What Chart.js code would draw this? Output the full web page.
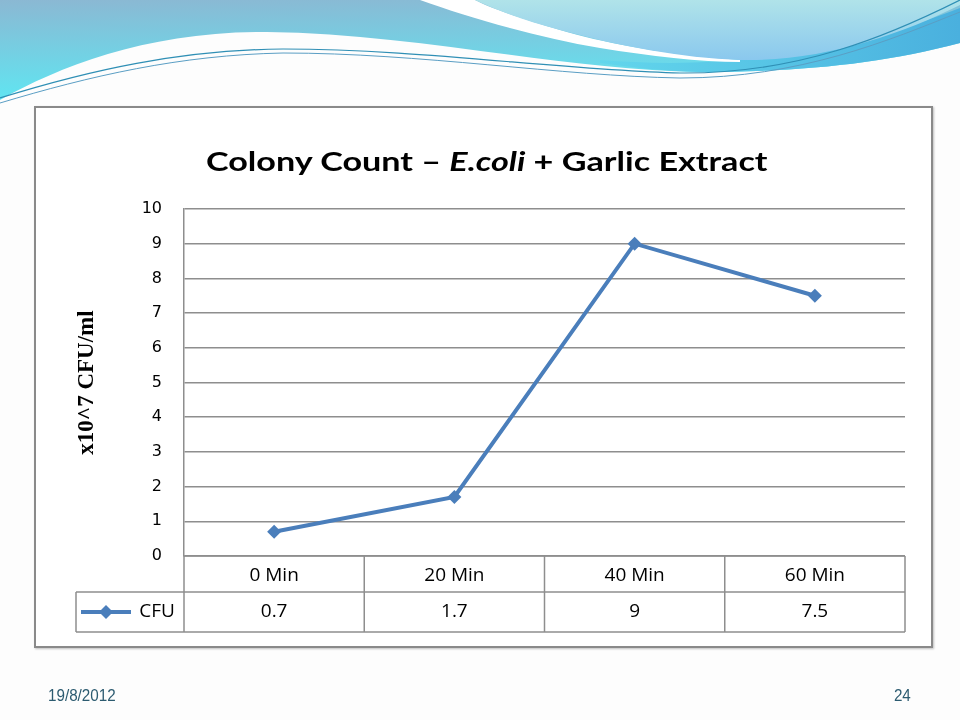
<!DOCTYPE html>
<html>
<head>
<meta charset="utf-8">
<script src="https://cdn.jsdelivr.net/npm/chart.js@4.4.0/dist/chart.umd.min.js"></script>
<style>
  html, body { margin: 0; padding: 0; background: #fff; }
  #slide { position: relative; width: 960px; height: 720px; overflow: hidden; background: #fdfdfd; }
  #waves { position: absolute; left: 0; top: 0; }
  #box { position: absolute; left: 34px; top: 106px; width: 895px; height: 538px;
         border: 2px solid #8a8a8a; background: #fff; box-shadow: 1px 1px 2px rgba(0,0,0,0.25); }
  #chart { position: absolute; left: 0; top: 0; }
  #title { position: absolute; left: 206px; top: 145px; white-space: nowrap;
           font: bold 26px Lato, "Open Sans", sans-serif; color: #000; transform-origin: 0 0; }
  .foot { position: absolute; top: 687px; font: 16px "Liberation Sans Narrow", "Liberation Sans", sans-serif;
          color: #2c5b70; transform: scaleX(0.95); }
</style>
</head>
<body>
<div id="slide">
  <svg id="waves" width="960" height="120">
    <defs>
      <linearGradient id="gMain" x1="0" y1="0" x2="0.15" y2="1">
        <stop offset="0" stop-color="#8bb8d3"/>
        <stop offset="1" stop-color="#5fe6f2"/>
      </linearGradient>
      <linearGradient id="gPale" x1="0" y1="0" x2="0" y2="1">
        <stop offset="0" stop-color="#b0e3e9"/>
        <stop offset="1" stop-color="#8ac8ee"/>
      </linearGradient>
      <linearGradient id="gBand" x1="0" y1="0" x2="1" y2="0">
        <stop offset="0" stop-color="#62d6ec"/>
        <stop offset="1" stop-color="#4ab0de"/>
      </linearGradient>
    </defs>
    <path d="M0,0 H960 V43 C880,64 800,72 700,72 C560,70 420,34 267,32 C150,31 60,66 0,100 Z" fill="url(#gMain)"/>
    <path d="M600,60 C700,68 820,62 960,8 V43 C880,64 800,72 700,72 C660,71 630,67 600,63 Z" fill="url(#gBand)"/>
    <path d="M420,0 C470,18 540,38 600,48 C650,56 700,62 740,62 L740,60 C660,54 600,42 560,30 C520,18 490,8 475,0 Z" fill="#fff"/>
    <path d="M475,0 C500,12 530,22 560,30 C620,46 680,58 740,60 C820,62 900,35 960,5 V0 Z" fill="url(#gPale)"/>
    <path d="M0,98 C90,70 180,50 283,49 C420,49 560,70 680,73 C800,74 890,35 960,0" stroke="#2f8fb5" fill="none" stroke-width="1.2"/>
    <path d="M0,103 C90,76 180,55 283,53 C420,53 560,76 680,78 C800,78 890,40 960,12" stroke="#5a9ec4" fill="none" stroke-width="1"/>
  </svg>
  <div id="box"></div>
  <canvas id="chart" width="960" height="720"></canvas>
  <div id="title">Colony Count – <i>E.coli</i> + Garlic Extract</div>
  <div class="foot" style="left:48px; transform-origin:0 0">19/8/2012</div>
  <div class="foot" style="right:49px; transform-origin:100% 0">24</div>
</div>
<script>
// ── Data ──────────────────────────────────────────────────────────────────────
const categories = ['0 Min', '20 Min', '40 Min', '60 Min'];
const cfuValues  = [0.7, 1.7, 9, 7.5];
const seriesName = 'CFU';
const yMin = 0, yMax = 10, yStep = 1;

const lineColor = '#4a7ebb';
const gridColor = '#8e8e8e';
const cellFont  = '19px "Open Sans", Lato, sans-serif';

// stretch title to the reference width
const titleEl = document.getElementById('title');
titleEl.style.transform = `scaleX(${562 / titleEl.offsetWidth})`;

// ── Data table under the plot (Excel style) ──────────────────────────────────
const dataTable = {
  id: 'dataTable',
  afterDraw(chart) {
    const { ctx, chartArea: area, scales: { x } } = chart;
    const colW   = (area.right - area.left) / categories.length;
    const row1   = area.bottom + 36;
    const row2   = row1 + 40;
    const legendLeft = 76;

    ctx.save();
    ctx.strokeStyle = gridColor;
    ctx.lineWidth = 1.5;
    ctx.beginPath();
    // horizontal lines
    ctx.moveTo(area.left, area.bottom); ctx.lineTo(area.right, area.bottom);
    ctx.moveTo(legendLeft, row1);       ctx.lineTo(area.right, row1);
    ctx.moveTo(legendLeft, row2);       ctx.lineTo(area.right, row2);
    // vertical lines
    ctx.moveTo(legendLeft, row1); ctx.lineTo(legendLeft, row2);
    for (let i = 0; i <= categories.length; i++) {
      const cx = area.left + i * colW;
      ctx.moveTo(cx, area.bottom); ctx.lineTo(cx, row2);
    }
    ctx.stroke();

    // values row
    const midY = (row1 + row2) / 2;
    ctx.fillStyle = '#000';
    ctx.font = cellFont;
    ctx.textAlign = 'center';
    ctx.textBaseline = 'middle';
    cfuValues.forEach((v, i) => ctx.fillText(String(v), x.getPixelForValue(i), midY));

    // legend key
    ctx.strokeStyle = lineColor;
    ctx.lineWidth = 4;
    ctx.beginPath();
    ctx.moveTo(81, midY); ctx.lineTo(131, midY);
    ctx.stroke();
    ctx.fillStyle = lineColor;
    ctx.beginPath();
    ctx.moveTo(106, midY - 7); ctx.lineTo(113, midY); ctx.lineTo(106, midY + 7); ctx.lineTo(99, midY);
    ctx.closePath();
    ctx.fill();
    ctx.fillStyle = '#000';
    ctx.fillText(seriesName, 157, midY);
    ctx.restore();
  }
};

new Chart(document.getElementById('chart'), {
  type: 'line',
  data: {
    labels: categories,
    datasets: [{
      label: seriesName,
      data: cfuValues,
      borderColor: lineColor,
      backgroundColor: lineColor,
      borderWidth: 4,
      tension: 0,
      pointStyle: 'rectRot',
      pointRadius: 7,
      pointHoverRadius: 7,
      pointBorderWidth: 0,
      pointBackgroundColor: lineColor,
      clip: false
    }]
  },
  options: {
    responsive: false,
    animation: false,
    layout: { padding: { left: 40, right: 55, top: 209, bottom: 0 } },
    plugins: { legend: { display: false }, tooltip: { enabled: false } },
    scales: {
      x: {
        offset: true,
        grid: { display: false, drawTicks: false },
        border: { display: false },
        ticks: { color: '#000', font: { family: '"Open Sans", Lato, sans-serif', size: 19 }, padding: 8, maxRotation: 0 },
        afterFit(scale) { scale.height = 164; }
      },
      y: {
        min: yMin,
        max: yMax,
        ticks: { stepSize: yStep, color: '#000', font: { family: '"DejaVu Sans", Verdana, sans-serif', size: 16 }, padding: 22 },
        grid: { color: gridColor, lineWidth: 1.5, drawTicks: false },
        border: { color: gridColor, width: 1.5 },
        title: {
          display: true,
          text: 'x10^7 CFU/ml',
          color: '#000',
          font: { family: '"Liberation Serif", "Times New Roman", serif', size: 23, weight: 'bold' },
          padding: { top: 33, bottom: 0 }
        },
        afterFit(scale) { scale.width = 144; }
      }
    }
  },
  plugins: [dataTable]
});
</script>
</body>
</html>
